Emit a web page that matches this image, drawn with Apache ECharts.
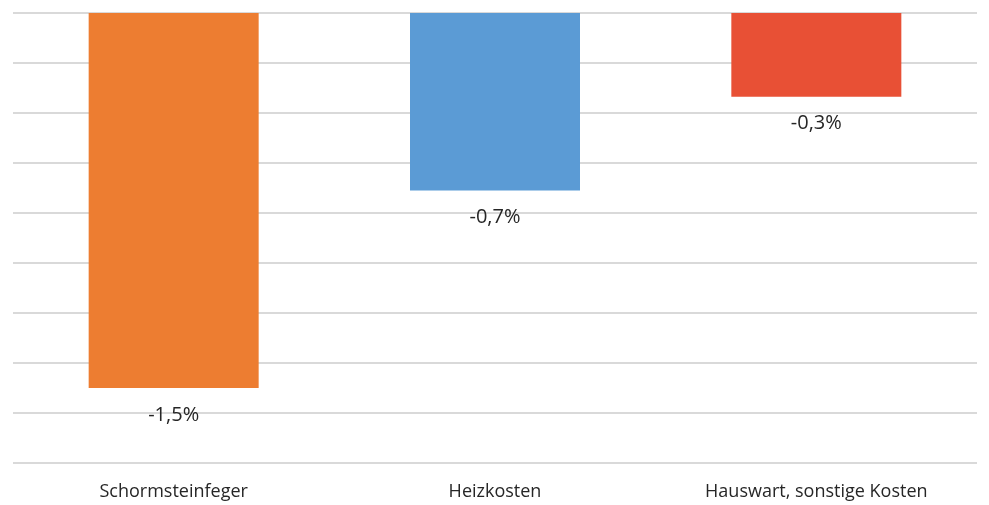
<!DOCTYPE html>
<html>
<head>
<meta charset="utf-8">
<script src="https://cdn.jsdelivr.net/npm/echarts@6/dist/echarts.min.js"></script>
<style>
  html, body { margin: 0; padding: 0; background: #fff; }
  #chart { width: 989px; height: 505px; }
</style>
</head>
<body>
<div id="chart"></div>
<script>
// Kategorien und Werte (in %)
var categories = ['Schormsteinfeger', 'Heizkosten', 'Hauswart, sonstige Kosten'];
var values = [-1.5, -0.71, -0.335];
var barColors = ['#ED7D31', '#5B9BD5', '#E85035'];

var chart = echarts.init(document.getElementById('chart'));

var option = {
  animation: false,
  grid: { left: 13, right: 12, top: 13, bottom: 42 },
  xAxis: {
    type: 'category',
    data: categories,
    position: 'bottom',
    axisLine: { show: false, onZero: false },
    axisTick: { show: false },
    axisLabel: {
      color: '#262626',
      fontSize: 18,
      fontFamily: 'Open Sans',
      margin: 20
    }
  },
  yAxis: {
    type: 'value',
    min: -1.8,
    max: 0,
    interval: 0.2,
    axisLabel: { show: false },
    axisLine: { show: false },
    axisTick: { show: false },
    splitLine: { lineStyle: { color: '#d9d9d9', width: 2 } }
  },
  series: [{
    type: 'bar',
    barWidth: 170,
    data: values.map(function (v, i) {
      return { value: v, itemStyle: { color: barColors[i] } };
    }),
    label: {
      show: true,
      position: 'bottom',
      distance: 17,
      color: '#262626',
      fontSize: 20,
      fontFamily: 'Open Sans',
      formatter: function (p) {
        return p.value.toFixed(1).replace('.', ',') + '%';
      }
    }
  }]
};

chart.setOption(option);
</script>
</body>
</html>
